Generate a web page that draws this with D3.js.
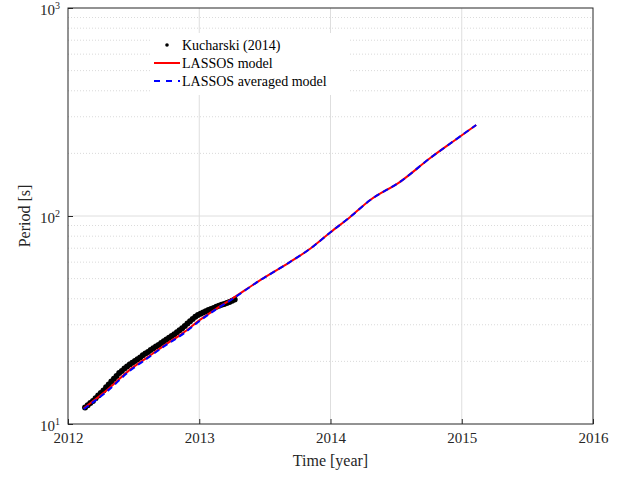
<!DOCTYPE html>
<html><head><meta charset="utf-8">
<script src="https://cdn.jsdelivr.net/npm/d3@7"></script>
<style>body{margin:0;background:#fff}</style>
</head><body><div id="svgContainer"></div>
<script>
var width = 631, height = 478;
var m = {l:68, r:38, t:8, b:54};
var serif = "Liberation Serif, DejaVu Serif, serif";

// model curve (year, period [s])
var modelYear   = [2012.12, 2012.3, 2012.47, 2012.6, 2012.74, 2012.88, 2013.0, 2013.12, 2013.25, 2013.45, 2013.69, 2013.85, 2014.0, 2014.15, 2014.3, 2014.53, 2014.76, 2014.95, 2015.11];
var modelPeriod = [11.9, 14.6, 18.2, 20.8, 24.0, 27.5, 31.5, 35.5, 40.0, 48.5, 60, 70, 83.5, 99, 119, 146, 190, 232, 274];
var avgPeriod   = [11.8, 14.4, 18.0, 20.6, 23.8, 27.2, 31.2, 35.3, 39.8, 48.5, 60, 70, 83.5, 99, 119, 146, 190, 232, 274];
// Kucharski (2014) observations
var obsYear   = [2012.13, 2012.15, 2012.17, 2012.19, 2012.21, 2012.23, 2012.25, 2012.27, 2012.29, 2012.31, 2012.33, 2012.35, 2012.37, 2012.39, 2012.41, 2012.43, 2012.45, 2012.47, 2012.49, 2012.51, 2012.53, 2012.55, 2012.57, 2012.59, 2012.61, 2012.63, 2012.65, 2012.67, 2012.69, 2012.71, 2012.73, 2012.75, 2012.77, 2012.79, 2012.81, 2012.83, 2012.85, 2012.87, 2012.89, 2012.91, 2012.93, 2012.95, 2012.97, 2012.99, 2013.01, 2013.03, 2013.05, 2013.07, 2013.09, 2013.11, 2013.13, 2013.15, 2013.17, 2013.19, 2013.21, 2013.23, 2013.25, 2013.27];
var obsPeriod = [12.0, 12.3, 12.6, 12.9, 13.3, 13.7, 14.1, 14.5, 15.0, 15.5, 16.0, 16.5, 17.0, 17.6, 18.0, 18.5, 18.9, 19.3, 19.7, 20.1, 20.5, 20.9, 21.4, 21.8, 22.2, 22.7, 23.1, 23.6, 24.0, 24.5, 25.0, 25.5, 26.0, 26.5, 27.0, 27.6, 28.2, 28.9, 29.6, 30.4, 31.2, 32.0, 32.8, 33.4, 33.9, 34.4, 34.8, 35.3, 35.7, 36.1, 36.6, 37.0, 37.4, 37.8, 38.2, 38.6, 39.1, 39.7];
var xTicks = [2012, 2013, 2014, 2015, 2016];

var svg = d3.select("#svgContainer").append("svg").attr("width", width).attr("height", height)
  .attr("font-family", serif);
var x = d3.scaleLinear().domain([2012, 2016]).range([m.l, width - m.r]);
var y = d3.scaleLog().domain([10, 1000]).range([height - m.b, m.t]);
var pw = width - m.r - m.l, ph = height - m.b - m.t;

// grid
var minor = [];
[10, 100].forEach(function(d) { for (var k = 2; k < 10; k++) minor.push(d * k); });
svg.selectAll(".mn").data(minor).join("line")
  .attr("x1", m.l).attr("x2", width - m.r).attr("y1", d => y(d)).attr("y2", d => y(d))
  .style("stroke", "#d0d0d0").style("stroke-dasharray", "1,2").style("stroke-width", 0.8);
svg.selectAll(".mj").data([100]).join("line")
  .attr("x1", m.l).attr("x2", width - m.r).attr("y1", d => y(d)).attr("y2", d => y(d))
  .style("stroke", "#dedede");
svg.selectAll(".vx").data([2013, 2014, 2015]).join("line")
  .attr("y1", m.t).attr("y2", height - m.b).attr("x1", d => x(d)).attr("x2", d => x(d))
  .style("stroke", "#dedede");

// axes
svg.append("g").attr("transform", "translate(0," + (height - m.b) + ")")
  .call(d3.axisBottom(x).tickValues(xTicks).tickFormat(d3.format("d")).tickSizeInner(-5).tickSizeOuter(0).tickPadding(8))
  .attr("font-family", serif)
  .call(g => g.selectAll("text").style("font-size", "15px").style("fill", "#262626"));
svg.append("g").attr("transform", "translate(" + m.l + ",0)")
  .call(d3.axisLeft(y).tickValues([10, 100, 1000]).tickFormat("").tickSizeInner(-5).tickSizeOuter(0))
  .attr("font-family", serif)
  .call(g => g.selectAll(".tick").each(function(d) {
    var t = d3.select(this).append("text").attr("x", -8).attr("dy", "0.4em").attr("text-anchor", "end")
      .style("font-size", "15px").style("fill", "#262626");
    t.append("tspan").text("10");
    t.append("tspan").attr("dy", "-0.6em").style("font-size", "10px").text(Math.log10(d));
  }));
svg.selectAll(".domain").remove();
svg.selectAll(".tick line").style("stroke", "#262626");
svg.append("rect").attr("x", m.l).attr("y", m.t).attr("width", pw).attr("height", ph)
  .style("fill", "none").style("stroke", "#262626").style("stroke-width", 1);

// labels
svg.append("text").attr("x", m.l + pw / 2).attr("y", height - 12).attr("text-anchor", "middle")
  .style("font-size", "16px").style("fill", "#262626").text("Time [year]");
svg.append("text").attr("transform", "translate(30," + (m.t + ph / 2) + ") rotate(-90)").attr("text-anchor", "middle")
  .style("font-size", "16px").style("fill", "#262626").text("Period [s]");

// data
svg.selectAll(".obs").data(obsYear).join("circle")
  .attr("cx", d => x(d)).attr("cy", (d, i) => y(obsPeriod[i])).attr("r", 3).style("fill", "#000");
var line = d3.line().x(d => x(d[0])).y(d => y(d[1])).curve(d3.curveMonotoneX);
svg.append("path").datum(modelYear.map((d, i) => [d, modelPeriod[i]])).attr("d", line)
  .style("fill", "none").style("stroke", "#ff0000").style("stroke-width", 2);
svg.append("path").datum(modelYear.map((d, i) => [d, avgPeriod[i]])).attr("d", line)
  .style("fill", "none").style("stroke", "#0000ff").style("stroke-width", 2).style("stroke-dasharray", "6,4");

// legend
var lg = svg.append("g");
lg.append("rect").attr("x", 150).attr("y", 33).attr("width", 200).attr("height", 62).style("fill", "#fff");
lg.append("circle").attr("cx", 167).attr("cy", 45).attr("r", 1.8).style("fill", "#000");
lg.append("line").attr("x1", 154).attr("x2", 180).attr("y1", 63).attr("y2", 63).style("stroke", "#ff0000").style("stroke-width", 2);
lg.append("line").attr("x1", 154).attr("x2", 180).attr("y1", 81).attr("y2", 81).style("stroke", "#0000ff").style("stroke-width", 2).style("stroke-dasharray", "6,6");
["Kucharski (2014)", "LASSOS model", "LASSOS averaged model"].forEach(function(s, i) {
  lg.append("text").attr("x", 182).attr("y", 50 + i * 18).style("font-size", "14px").style("fill", "#000").text(s);
});
</script></body></html>
